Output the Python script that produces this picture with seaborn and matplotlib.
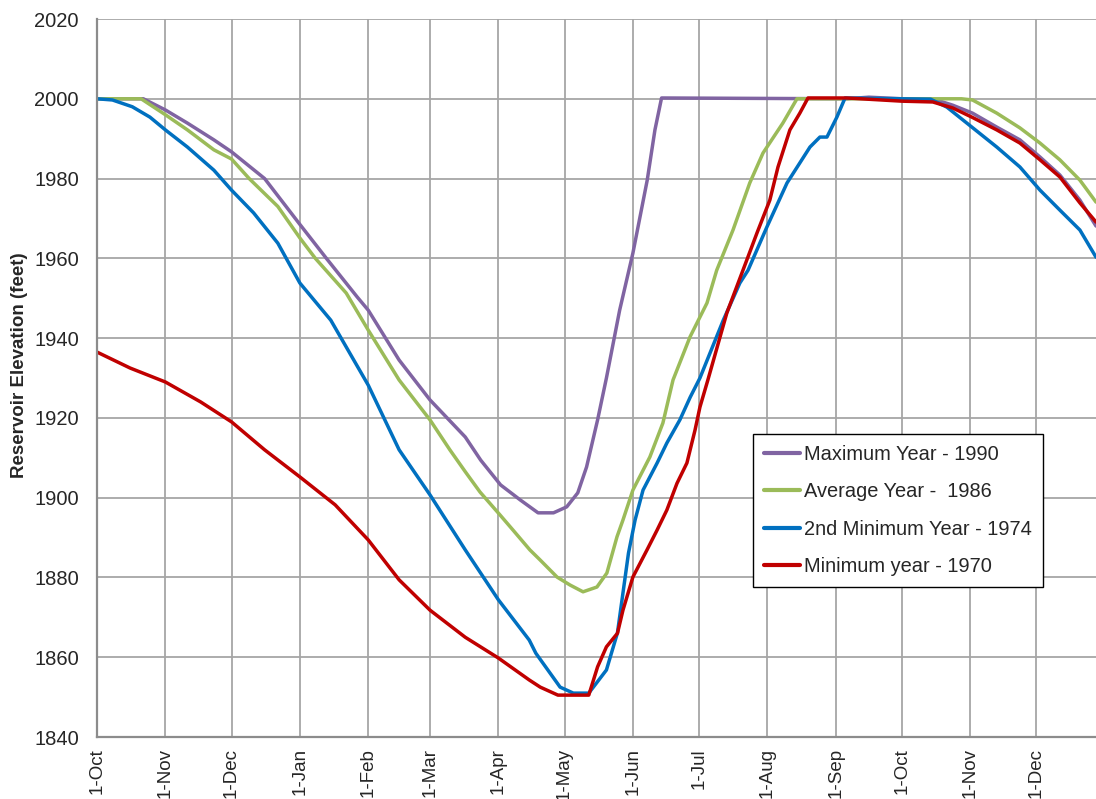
import matplotlib
matplotlib.use("Agg")
import matplotlib.pyplot as plt
import seaborn as sns
import numpy as np
import pandas as pd

# days counted from 1-Oct, elevations in feet
max_days = [0, 21, 31, 41, 53, 61, 76, 92, 104, 118, 123, 137, 151, 167, 174, 183, 192, 200, 207,
            213, 218, 222, 227, 231, 237, 243, 249.5, 253, 256, 340, 350, 365, 380, 388, 397,
            408, 418.5, 427.6, 436.6, 445.7, 453]
max_elev = [2000, 2000, 1997.2, 1993.9, 1989.7, 1986.7, 1980, 1968.5, 1960, 1950.3, 1947, 1934.5,
            1924.5, 1915.2, 1909.4, 1903.2, 1899.4, 1896.2, 1896.2, 1897.7, 1901.2, 1907.7, 1919.5,
            1930, 1947, 1961.3, 1979.6, 1992.2, 2000.2, 2000, 2000.4, 2000, 1999.8, 1998.4, 1996.4,
            1992.9, 1989.7, 1985.4, 1980.9, 1974.6, 1968.1]

avg_days = [0, 20, 31, 41, 53, 61, 69, 82, 92, 99, 113, 123, 137, 151, 160, 167, 173.7, 182.7,
            188.6, 196.3, 200.9, 208.6, 214.5, 220.4, 226.7, 231.2, 235.8, 238.5, 243, 250.7,
            256.6, 261.2, 268.9, 276.6, 281, 288.4, 296, 302, 311, 317.4, 392, 397, 408, 418.5,
            427.6, 436.6, 445.7, 453]
avg_elev = [2000, 2000, 1996, 1992.2, 1987.2, 1984.9, 1980, 1973, 1965.1, 1960, 1951.3, 1942,
            1929.5, 1919.5, 1912, 1906.5, 1901.4, 1895.7, 1891.9, 1886.9, 1884.4, 1880.1, 1878.1,
            1876.4, 1877.6, 1881.1, 1890.2, 1894.4, 1901.9, 1910.2, 1918.7, 1929.5, 1940.3, 1948.8,
            1957, 1967.1, 1978.9, 1986.4, 1993.9, 2000, 2000, 1999.7, 1996.4, 1992.7, 1988.9,
            1984.7, 1979.6, 1974.1]

min2_days = [0, 7, 16, 24, 31, 41, 53, 61, 71, 82, 92, 106, 123, 137, 151, 167, 182, 196, 199,
             210, 216, 223, 231, 236, 238.5, 241, 244, 247.6, 254, 258.4, 264.3, 269, 273.4, 284,
             291.5, 295.2, 303.8, 312.9, 323.3, 327.8, 331, 335.5, 339.2, 378, 385.4, 396.7, 408,
             418.5, 427.6, 436.6, 445.7, 453]
min2_elev = [2000, 1999.7, 1998, 1995.4, 1992.2, 1987.9, 1982.1, 1977.1, 1971.4, 1963.8, 1953.8,
             1944.5, 1928.2, 1912, 1900.7, 1886.9, 1874.4, 1864.3, 1861, 1852.5, 1851, 1851, 1856.8,
             1866.1, 1876.1, 1886.1, 1894.4, 1901.9, 1908.7, 1913.7, 1919.5, 1925.2, 1930, 1944.5,
             1953.8, 1957, 1967.9, 1978.9, 1987.9, 1990.4, 1990.4, 1995.4, 2000.2, 1999.9, 1997.9,
             1992.9, 1987.9, 1982.9, 1977.1, 1972.1, 1967.1, 1960.3]

min_days = [0, 15, 31, 47, 61, 76, 92, 108, 123, 137, 151, 167, 182, 196, 201, 209, 223, 227, 231,
            236, 238.5, 243, 249.4, 254, 258.4, 263, 267.5, 271.2, 273.4, 277, 285.6, 292.9, 299.3,
            305.1, 308.8, 314.2, 318.7, 322.4, 340, 365, 379, 388, 396.7, 408, 418.5, 427.6, 436.6,
            445.7, 453]
min_elev = [1936.5, 1932.5, 1929, 1924, 1919, 1912, 1905.2, 1898.2, 1889.4, 1879.4, 1871.8, 1865,
            1859.8, 1854.3, 1852.5, 1850.5, 1850.5, 1857.6, 1862.6, 1866, 1871.8, 1880.1, 1886.9,
            1891.9, 1896.9, 1903.6, 1908.7, 1917, 1922.7, 1929.5, 1946.3, 1957, 1966.4, 1974.6,
            1982.9, 1992.2, 1996.4, 2000.2, 2000.2, 1999.4, 1999.2, 1997.7, 1995.4, 1992.2, 1988.9,
            1984.7, 1980.4, 1973.9, 1969.1]

series_names = ["Maximum Year - 1990", "Average Year -  1986",
                "2nd Minimum Year - 1974", "Minimum year - 1970"]
series_colors = ["#8064A2", "#9BBB59", "#0070C0", "#C00000"]

tick_days = [0, 31, 61, 92, 123, 151, 182, 212, 243, 273, 304, 335, 365, 396, 426]
tick_labels = ["1-Oct", "1-Nov", "1-Dec", "1-Jan", "1-Feb", "1-Mar", "1-Apr", "1-May",
               "1-Jun", "1-Jul", "1-Aug", "1-Sep", "1-Oct", "1-Nov", "1-Dec"]

frames = []
for name, d, e in zip(series_names,
                      [max_days, avg_days, min2_days, min_days],
                      [max_elev, avg_elev, min2_elev, min_elev]):
    frames.append(pd.DataFrame({"day": d, "elev": e, "series": name}))
df = pd.concat(frames, ignore_index=True)

sns.set_style("whitegrid")
plt.rcParams['font.family'] = ['Liberation Sans', 'DejaVu Sans']

fig = plt.figure(figsize=(10.96, 7.99), dpi=100)
ax = fig.add_axes([97 / 1096, 62 / 799, 999 / 1096, 718 / 799])

sns.lineplot(data=df, x="day", y="elev", hue="series", hue_order=series_names,
             palette=series_colors, estimator=None, errorbar=None, sort=False,
             linewidth=2.5, ax=ax)

ax.set_xlim(0, 453)
ax.set_ylim(1840, 2020)
ax.set_yticks(np.arange(1840, 2021, 20))
ax.set_xticks(tick_days)
ax.set_xticklabels(tick_labels, rotation=90, fontsize=13.5)
ax.tick_params(axis="y", labelsize=14.5, pad=8)
ax.tick_params(axis="x", pad=3)
ax.tick_params(direction="out", length=5, width=1.2, color="#8C8C8C")

ax.grid(True, color="#A6A6A6", linewidth=1.3)
for side in ["top", "right"]:
    ax.spines[side].set_visible(False)
for side in ["left", "bottom"]:
    ax.spines[side].set_color("#8C8C8C")
    ax.spines[side].set_linewidth(1.6)

ax.set_xlabel("")
ax.set_ylabel("Reservoir Elevation (feet)", fontsize=13.5, fontweight="bold")
ax.yaxis.set_label_coords(-0.069, 0.518)

leg = ax.legend(loc="upper left", bbox_to_anchor=(753 / 1096, 1 - 434 / 799),
                bbox_transform=fig.transFigure, borderaxespad=0, fontsize=14.4,
                frameon=True, fancybox=False, handlelength=1.8, handletextpad=0.2,
                labelspacing=0.92, borderpad=0.55)
leg.get_frame().set_edgecolor("black")
leg.get_frame().set_linewidth(1.0)
leg.get_frame().set_alpha(1)
for line in leg.get_lines():
    line.set_linewidth(3)

fig.savefig("out.png", dpi=100)
